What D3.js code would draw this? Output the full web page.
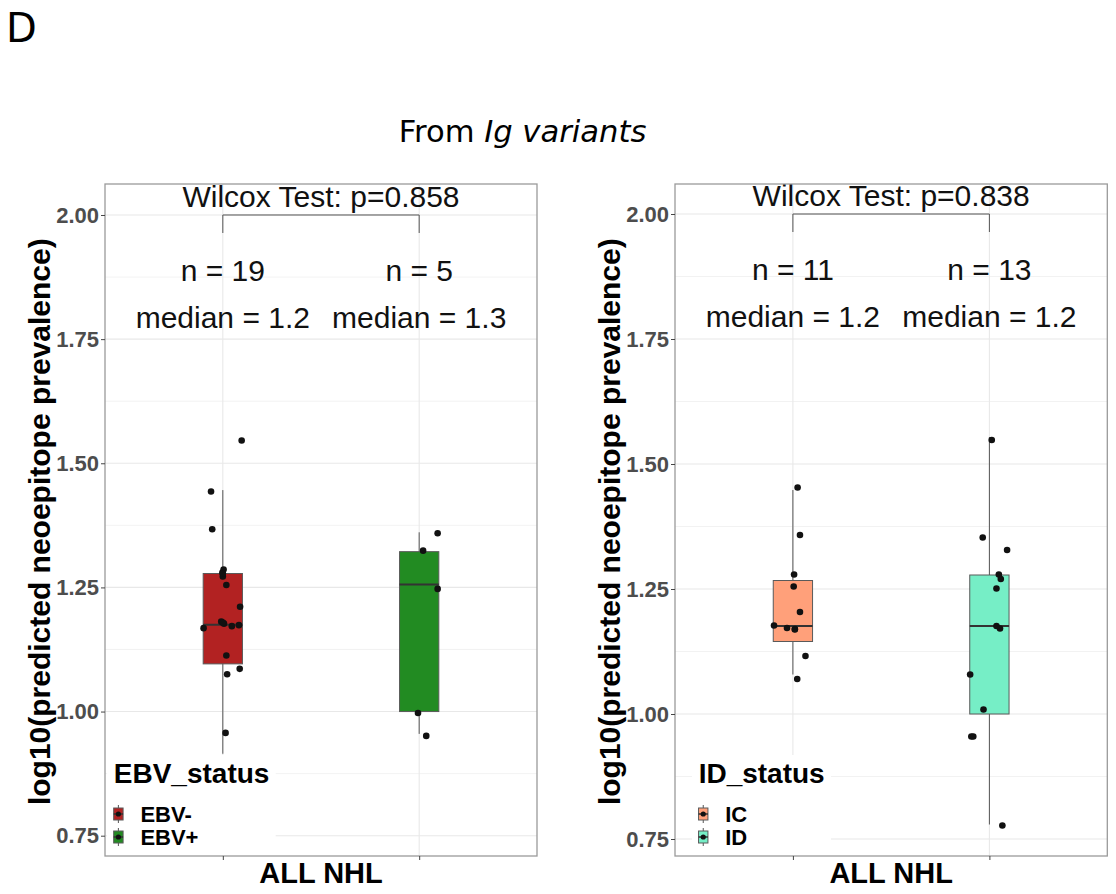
<!DOCTYPE html>
<html>
<head>
<meta charset="utf-8">
<script src="https://cdn.jsdelivr.net/npm/d3@7"></script>
<style>
  html, body { margin: 0; padding: 0; background: #fff; }
  svg { display: block; }
</style>
</head>
<body>
<script>
// ---- Data ---------------------------------------------------------------
const yTicks = [0.75, 1.00, 1.25, 1.50, 1.75, 2.00];

// Panel 1: EBV status
const groupsEBV = ["EBV-", "EBV+"];
const colorsEBV = ["#B22222", "#228B22"];
const countsEBV = [19, 5];
const pValueEBV = 0.858;
// box summaries: [lower whisker, Q1, median, Q3, upper whisker]
const boxEBVneg = [0.915, 1.096, 1.175, 1.278, 1.446];
const boxEBVpos = [0.955, 1.000, 1.256, 1.322, 1.361];
const valsEBVneg = [1.546, 1.443, 1.367, 1.286, 1.280, 1.272, 1.255, 1.211, 1.181, 1.177,
                    1.172, 1.174, 1.168, 1.113, 1.086, 1.075, 0.957, 1.278, 1.179];
const jitEBVneg  = [0.48, -0.30, -0.27, 0.02, -0.01, 0.00, 0.09, 0.44, -0.04, 0.03,
                    0.23, 0.41, -0.49, 0.09, 0.43, 0.11, 0.07, 0.00, 0.00];
const valsEBVpos = [1.359, 1.324, 1.247, 0.997, 0.951];
const jitEBVpos  = [0.47, 0.10, 0.47, -0.03, 0.18];

// Panel 2: ID status
const groupsID = ["IC", "ID"];
const colorsID = ["#FFA07A", "#76EEC6"];
const countsID = [11, 13];
const pValueID = 0.838;
const boxIC = [1.079, 1.145, 1.176, 1.267, 1.448];
const boxID = [0.779, 1.000, 1.176, 1.278, 1.554];
const valsIC = [1.453, 1.358, 1.279, 1.255, 1.204, 1.177, 1.172, 1.169, 1.116, 1.070, 1.170];
const jitIC  = [0.12, 0.18, 0.03, 0.02, 0.18, -0.48, -0.15, 0.05, 0.32, 0.11, 0.05];
const valsID = [1.548, 1.353, 1.328, 1.279, 1.270, 1.251, 1.176, 1.171, 1.079, 1.009, 0.955, 0.955, 0.777];
const jitID  = [0.06, -0.17, 0.45, 0.24, 0.29, 0.18, 0.18, 0.27, -0.49, -0.15, -0.46, -0.41, 0.33];

// ---- Figure ---------------------------------------------------------------
const W = 1116, H = 894;
const SANS = "'Liberation Sans', Arial, Helvetica, sans-serif";
const svg = d3.select("body").append("svg").attr("width", W).attr("height", H);
svg.append("rect").attr("width", W).attr("height", H).attr("fill", "#fff");

svg.append("text").attr("x", 6).attr("y", 42)
  .style("font-family", "'DejaVu Sans', sans-serif").style("font-size", "40px")
  .attr("fill", "#000").text("D");

const title = svg.append("text").attr("x", 522.5).attr("y", 141.7)
  .attr("text-anchor", "middle")
  .style("font-family", "'DejaVu Sans', sans-serif").style("font-size", "30.6px")
  .attr("fill", "#000");
title.append("tspan").text("From ");
title.append("tspan").style("font-style", "italic").text("Ig variants");

function drawPanel(p) {
  const g = svg.append("g");
  const y = d3.scaleLinear().domain(p.yDomain).range([p.y1, p.y0]);
  const x = d3.scalePoint().domain(p.groups).range([p.x0, p.x1]).padding(0.6);
  const bw = x.step() * 0.2;
  const minor = d3.pairs(yTicks).map(([a, b]) => (a + b) / 2);

  // grid
  const grid = g.append("g");
  grid.selectAll(".minor").data(minor).join("line")
    .attr("x1", p.x0).attr("x2", p.x1)
    .attr("y1", d => y(d)).attr("y2", d => y(d))
    .attr("stroke", "#EFEFEF").attr("stroke-width", 0.8);
  grid.selectAll(".major").data(yTicks).join("line")
    .attr("x1", p.x0).attr("x2", p.x1)
    .attr("y1", d => y(d)).attr("y2", d => y(d))
    .attr("stroke", "#E8E8E8").attr("stroke-width", 1.1);
  grid.selectAll(".vmajor").data(p.groups).join("line")
    .attr("x1", d => x(d)).attr("x2", d => x(d))
    .attr("y1", p.y0).attr("y2", p.y1)
    .attr("stroke", "#E8E8E8").attr("stroke-width", 1.1);

  // boxes
  p.groups.forEach((grp, i) => {
    const [lo, q1, med, q3, hi] = p.boxes[i];
    const cx = x(grp);
    g.append("line").attr("x1", cx).attr("x2", cx)
      .attr("y1", y(hi)).attr("y2", y(lo))
      .attr("stroke", "#555").attr("stroke-width", 1);
    g.append("rect").attr("x", cx - bw / 2).attr("width", bw)
      .attr("y", y(q3)).attr("height", y(q1) - y(q3))
      .attr("fill", p.colors[i]).attr("stroke", "#5a5a5a").attr("stroke-width", 1);
    g.append("line").attr("x1", cx - bw / 2).attr("x2", cx + bw / 2)
      .attr("y1", y(med)).attr("y2", y(med))
      .attr("stroke", "#333").attr("stroke-width", 2);
  });

  // jittered points
  p.groups.forEach((grp, i) => {
    const pts = p.values[i].map((v, k) => ({ v, j: p.jitter[i][k] }));
    g.append("g").selectAll("circle").data(pts).join("circle")
      .attr("cx", d => x(grp) + d.j * bw)
      .attr("cy", d => y(d.v))
      .attr("r", 3.3).attr("fill", "#111");
  });

  // comparison bracket + test label
  const by = y(2.0);
  const xa = x(p.groups[0]), xb = x(p.groups[1]);
  g.append("path")
    .attr("d", `M${xa},${by + 18}V${by}H${xb}V${by + 18}`)
    .attr("fill", "none").attr("stroke", "#555").attr("stroke-width", 1);
  g.append("text").attr("x", (xa + xb) / 2).attr("y", by - 7.7)
    .attr("text-anchor", "middle")
    .style("font-family", SANS).style("font-size", "30px").attr("fill", "#111")
    .text(`Wilcox Test: p=${p.pValue.toFixed(3)}`);

  // n / median annotations
  p.groups.forEach((grp, i) => {
    g.append("text").attr("x", x(grp)).attr("y", by + 66)
      .attr("text-anchor", "middle")
      .style("font-family", SANS).style("font-size", "30px").attr("fill", "#111")
      .text(`n = ${p.counts[i]}`);
    g.append("text").attr("x", x(grp)).attr("y", by + 112.7)
      .attr("text-anchor", "middle")
      .style("font-family", SANS).style("font-size", "30px").attr("fill", "#111")
      .text(`median = ${p.boxes[i][2].toFixed(1)}`);
  });

  // legend (inside panel, bottom-left)
  const leg = g.append("g");
  const legBg = leg.append("rect").attr("fill", "#fff");
  const legTitle = leg.append("text").attr("y", 783.3)
    .style("font-family", SANS).style("font-size", "28px").style("font-weight", "bold")
    .attr("fill", "#000").text(p.legendTitle);
  const tw = legTitle.node().getComputedTextLength();
  const lw = tw + 13;
  const lx = p.x0 + 0.2 * (p.x1 - p.x0) - lw / 2;
  legBg.attr("x", lx).attr("y", 755).attr("width", lw).attr("height", p.y1 - 755 - 0.7);
  legTitle.attr("x", lx + 6.7);
  const keyY = [814, 837];
  p.groups.forEach((grp, i) => {
    const kx = lx + 11.3, ky = keyY[i];
    leg.append("line").attr("x1", kx).attr("x2", kx).attr("y1", ky - 9).attr("y2", ky + 9)
      .attr("stroke", "#555").attr("stroke-width", 1);
    leg.append("rect").attr("x", kx - 4.7).attr("y", ky - 6).attr("width", 9.4).attr("height", 12)
      .attr("fill", p.colors[i]).attr("stroke", "#5a5a5a").attr("stroke-width", 1);
    leg.append("line").attr("x1", kx - 4.7).attr("x2", kx + 4.7).attr("y1", ky).attr("y2", ky)
      .attr("stroke", "#333").attr("stroke-width", 1.5);
    leg.append("circle").attr("cx", kx).attr("cy", ky).attr("r", 2.6).attr("fill", "#111");
    leg.append("text").attr("x", lx + 33.3).attr("y", ky + 7.5)
      .style("font-family", SANS).style("font-size", "22px").style("font-weight", "bold")
      .attr("fill", "#000").text(grp);
  });

  // panel border
  g.append("rect").attr("x", p.x0).attr("y", p.y0)
    .attr("width", p.x1 - p.x0).attr("height", p.y1 - p.y0)
    .attr("fill", "none").attr("stroke", "#9A9A9A").attr("stroke-width", 1.3);

  // axes
  const ya = g.append("g").attr("transform", `translate(${p.x0},0)`)
    .call(d3.axisLeft(y).tickValues(yTicks).tickFormat(d3.format(".2f")).tickSize(4).tickPadding(2));
  ya.select(".domain").remove();
  ya.selectAll("line").attr("stroke", "#444");
  ya.selectAll("text").style("font-family", SANS).style("font-size", "22px")
    .style("font-weight", "bold").attr("fill", "#4D4D4D");

  const xa2 = g.append("g").attr("transform", `translate(0,${p.y1})`)
    .call(d3.axisBottom(x).tickSize(4).tickFormat(""));
  xa2.select(".domain").remove();
  xa2.selectAll("line").attr("stroke", "#444");

  g.append("text").attr("x", (p.x0 + p.x1) / 2).attr("y", 882.7)
    .attr("text-anchor", "middle")
    .style("font-family", SANS).style("font-size", "29px").style("font-weight", "bold")
    .attr("fill", "#000").text(p.xLabel);

  g.append("text").attr("transform", `translate(${p.x0 - 55},521.7) rotate(-90)`)
    .attr("text-anchor", "middle")
    .style("font-family", SANS).style("font-size", "30px").style("font-weight", "bold")
    .attr("fill", "#000").text("log10(predicted neoepitope prevalence)");
}

drawPanel({
  x0: 105, x1: 537, y0: 184, y1: 856,
  yDomain: [0.7091, 2.0624],
  groups: groupsEBV, colors: colorsEBV, counts: countsEBV, pValue: pValueEBV,
  boxes: [boxEBVneg, boxEBVpos],
  values: [valsEBVneg, valsEBVpos], jitter: [jitEBVneg, jitEBVpos],
  legendTitle: "EBV_status", xLabel: "ALL NHL"
});

drawPanel({
  x0: 675, x1: 1107.3, y0: 184, y1: 856,
  yDomain: [0.716, 2.06],
  groups: groupsID, colors: colorsID, counts: countsID, pValue: pValueID,
  boxes: [boxIC, boxID],
  values: [valsIC, valsID], jitter: [jitIC, jitID],
  legendTitle: "ID_status", xLabel: "ALL NHL"
});
</script>
</body>
</html>
